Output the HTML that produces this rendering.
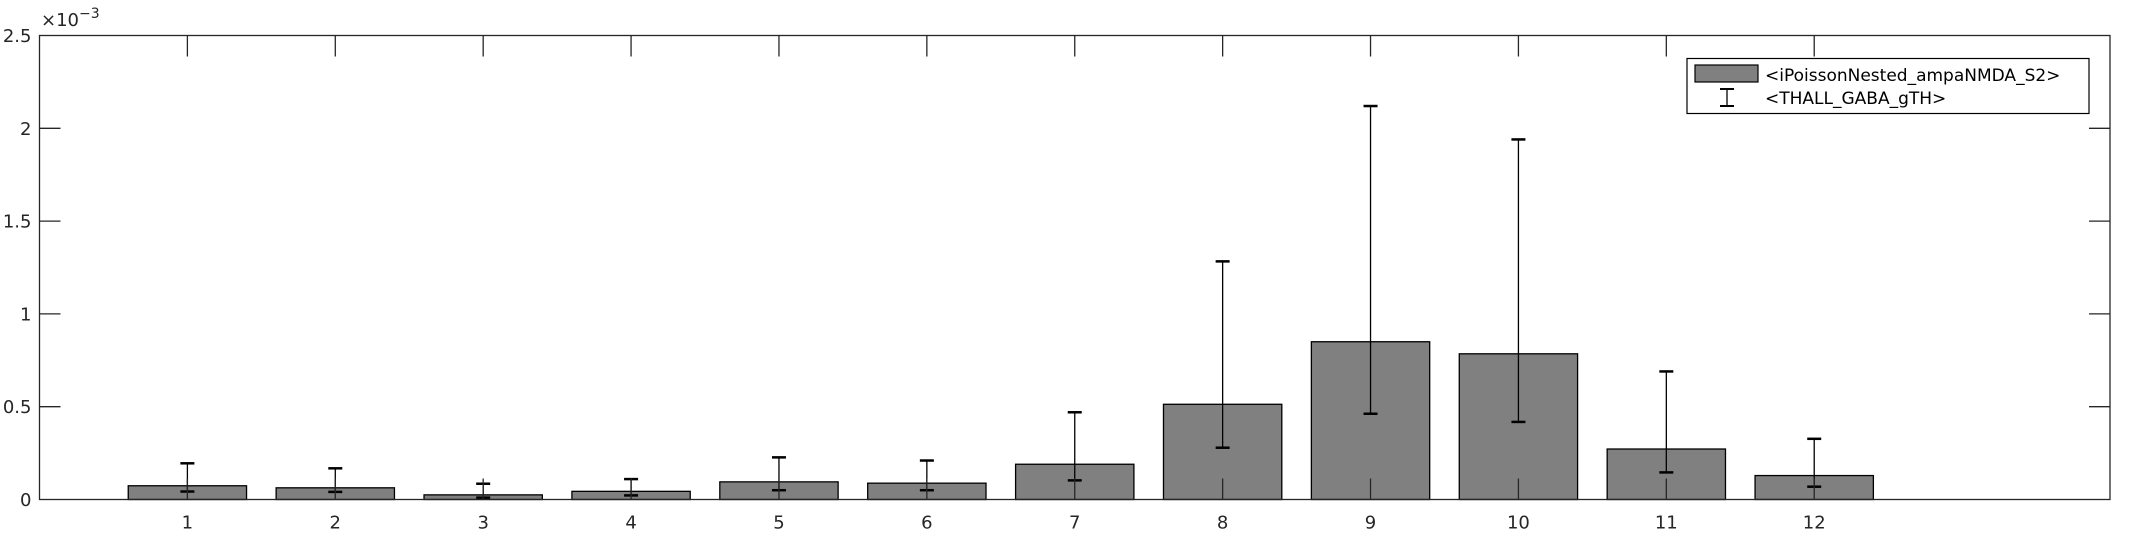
<!DOCTYPE html>
<html><head><meta charset="utf-8"><style>
body{margin:0;background:#fff;}
svg{display:block;font-family:"DejaVu Sans","Liberation Sans",sans-serif;}
</style></head><body>
<svg id="chart" width="2133" height="533" viewBox="0 0 2133 533" xmlns="http://www.w3.org/2000/svg"></svg>
<script>
const categories=[1,2,3,4,5,6,7,8,9,10,11,12];
const barValues=[0.074,0.063,0.025,0.044,0.095,0.088,0.19,0.513,0.85,0.785,0.272,0.129];
const errUpper=[0.195,0.168,0.085,0.11,0.227,0.21,0.47,1.283,2.12,1.94,0.69,0.327];
const errLower=[0.043,0.041,0.01,0.022,0.05,0.05,0.103,0.279,0.462,0.418,0.146,0.069];
const yTicks=[0,0.5,1,1.5,2,2.5];
const yTickLabels=["0","0.5","1","1.5","2","2.5"];

const L=39.5,R=2110,T=35.5,B=499.5,XMIN=0,XMAX=14,YMAX=2.5;
const NS="http://www.w3.org/2000/svg";
const svg=document.getElementById('chart');
function xs(v){return L+(v-XMIN)/(XMAX-XMIN)*(R-L);}
function ys(v){return B-v/YMAX*(B-T);}
function mk(tag,attrs,parent){const e=document.createElementNS(NS,tag);for(const k in attrs)e.setAttribute(k,attrs[k]);(parent||svg).appendChild(e);return e;}
const C="#262626";
categories.forEach((c,i)=>{
 const w=0.8*(R-L)/(XMAX-XMIN);
 const r=mk('rect',{x:xs(c)-w/2,y:ys(barValues[i]),width:w,height:B-ys(barValues[i]),fill:'#808080',stroke:'#000','stroke-width':1.3});
 
 
});
categories.forEach((c,i)=>{
 const g=mk('g',{stroke:'#000'});
 
 
 const x=xs(c);
 mk('line',{x1:x,x2:x,y1:ys(errUpper[i]),y2:ys(errLower[i]),'stroke-width':1.3},g);
 mk('line',{x1:x-7,x2:x+7,y1:ys(errUpper[i]),y2:ys(errUpper[i]),'stroke-width':2.5},g);
 mk('line',{x1:x-7,x2:x+7,y1:ys(errLower[i]),y2:ys(errLower[i]),'stroke-width':2.5},g);
});
const box=mk('rect',{x:L,y:T,width:R-L,height:B-T,fill:'none',stroke:C,'stroke-width':1.3});


categories.forEach(c=>{
 const x=xs(c);
 mk('line',{x1:x,x2:x,y1:B,y2:B-21,stroke:C,'stroke-width':1.3});
 mk('line',{x1:x,x2:x,y1:T,y2:T+21,stroke:C,'stroke-width':1.3});
 const t=mk('text',{x:x,y:B+29,'text-anchor':'middle','font-size':18,fill:C});
 t.textContent=c;
 
 
});
yTicks.forEach((v,i)=>{
 const y=ys(v);
 if(i>0&&i<yTicks.length-1){
  mk('line',{x1:L,x2:L+21,y1:y,y2:y,stroke:C,'stroke-width':1.3});
  mk('line',{x1:R,x2:R-21,y1:y,y2:y,stroke:C,'stroke-width':1.3});
 }
 const t=mk('text',{x:L-8,y:y+6.5,'text-anchor':'end','font-size':18,fill:C});
 t.textContent=yTickLabels[i];
 
 
});
const ex=mk('text',{x:41,y:26,'font-size':18,fill:C});


ex.innerHTML='×10<tspan dy="-8" font-size="14">−3</tspan>';
const lg=mk('g',{});


mk('rect',{x:1687,y:58.5,width:402,height:55,fill:'#fff',stroke:'#000','stroke-width':1.2},lg);
mk('rect',{x:1695,y:65,width:63,height:17,fill:'#808080',stroke:'#000','stroke-width':1.2},lg);
mk('line',{x1:1727,x2:1727,y1:89,y2:106,stroke:'#000','stroke-width':1.3},lg);
mk('line',{x1:1720,x2:1734,y1:89,y2:89,stroke:'#000','stroke-width':2},lg);
mk('line',{x1:1720,x2:1734,y1:106,y2:106,stroke:'#000','stroke-width':2},lg);
const t1=mk('text',{x:1765,y:81,'font-size':17,fill:'#000'},lg);t1.textContent='<iPoissonNested_ampaNMDA_S2>';


const t2=mk('text',{x:1765,y:104,'font-size':17,fill:'#000'},lg);t2.textContent='<THALL_GABA_gTH>';


</script>
</body></html>
